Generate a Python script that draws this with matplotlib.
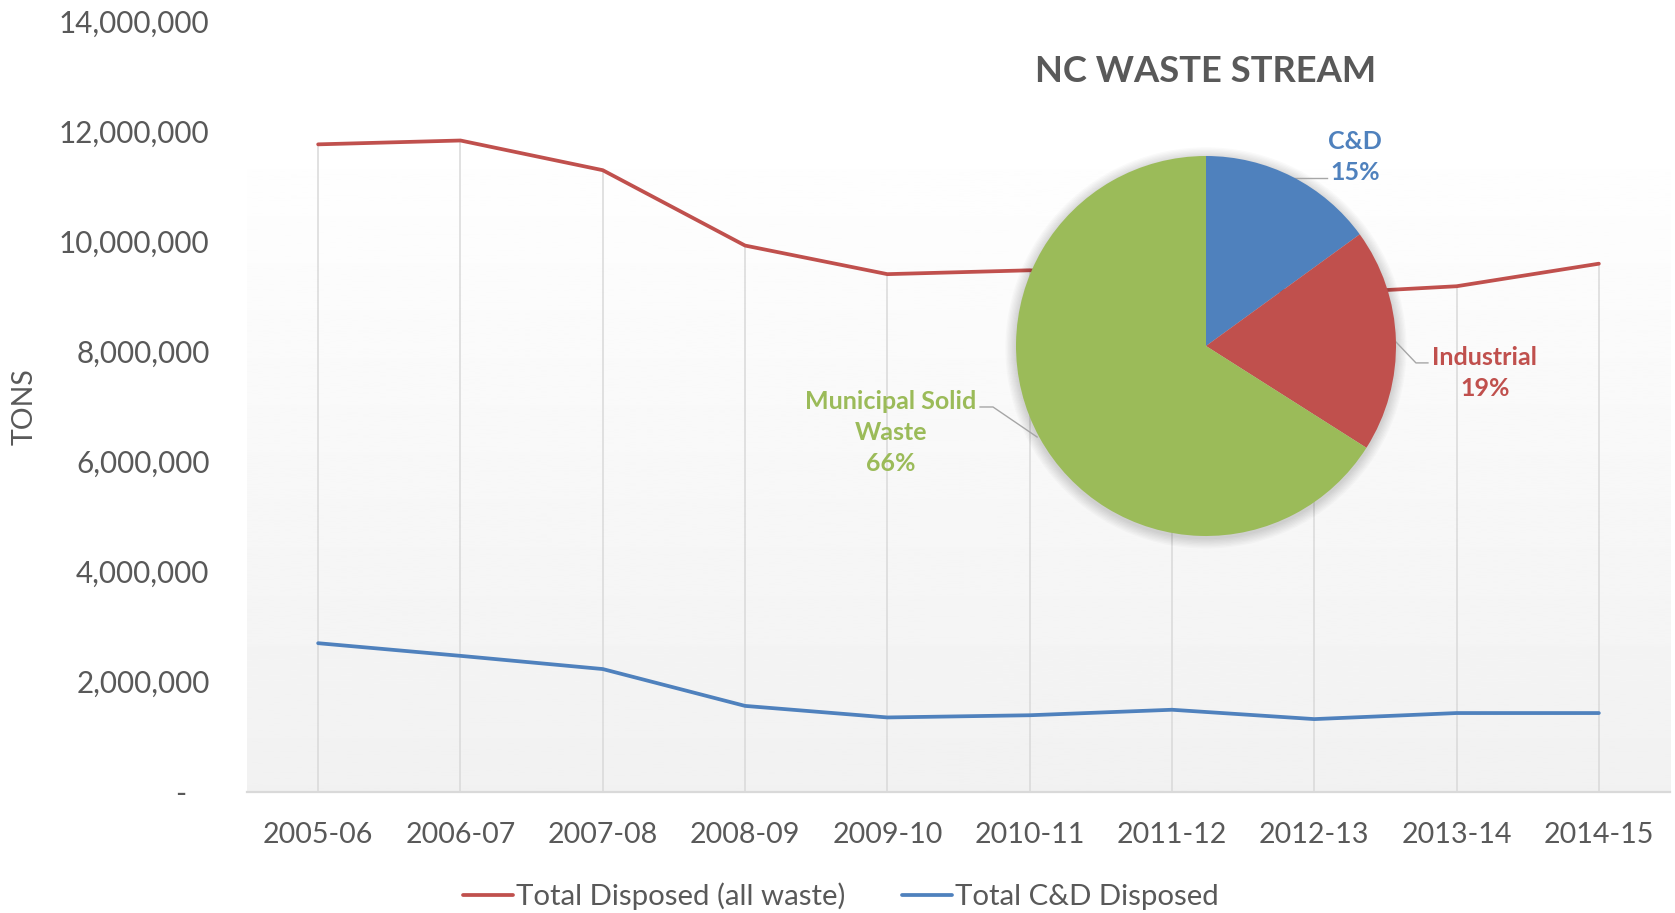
import numpy as np
import matplotlib
matplotlib.use("Agg")
import matplotlib.pyplot as plt
from matplotlib.ticker import FuncFormatter, MultipleLocator

plt.rcParams['font.family'] = ['Lato', 'DejaVu Sans']

# data
years = ['2005-06', '2006-07', '2007-08', '2008-09', '2009-10',
         '2010-11', '2011-12', '2012-13', '2013-14', '2014-15']
total_disposed = [11770000, 11840000, 11300000, 9930000, 9410000,
                  9480000, 9300000, 9050000, 9190000, 9600000]
cd_disposed = [2700000, 2470000, 2230000, 1560000, 1350000,
               1390000, 1490000, 1320000, 1430000, 1430000]

pie_labels = ['C&D', 'Industrial', 'Municipal Solid\nWaste']
pie_shares = [15, 19, 66]

RED = '#C0504D'
BLUE = '#4F81BD'
GREEN = '#9BBB59'
GRAY_TXT = '#595959'

W, H = 1675, 913
fig = plt.figure(figsize=(W / 100, H / 100), dpi=100)

# ---- line chart
ax = fig.add_axes([247 / W, 1 - 791.7 / H, 1423 / W, 770 / H])
x = np.arange(len(years))

# gradient plot area fill
grad = np.linspace(1.0, 0.945, 256).reshape(-1, 1)
ax.imshow(grad, extent=[-0.5, 9.5, 0, 12.2e6], aspect='auto', cmap='gray',
          vmin=0, vmax=1, zorder=0, origin='upper')

ax.vlines(x, 0, total_disposed, color='#d9d9d9', lw=1.1, zorder=1)
ax.plot(x, total_disposed, color=RED, lw=2.7, solid_capstyle='round',
        label='Total Disposed (all waste)', zorder=3)
ax.plot(x, cd_disposed, color=BLUE, lw=2.7, solid_capstyle='round',
        label='Total C&D Disposed', zorder=3)

ax.set_xlim(-0.5, 9.5)
ax.set_ylim(0, 14e6)
ax.yaxis.set_major_locator(MultipleLocator(2e6))
ax.yaxis.set_major_formatter(FuncFormatter(
    lambda v, p: '-   ' if v == 0 else '{:,.0f}'.format(v)))
ax.set_xticks(x)
ax.set_xticklabels(years)
ax.tick_params(axis='y', length=0, labelsize=21.3, labelcolor=GRAY_TXT, pad=27)
ax.tick_params(axis='x', length=0, labelsize=20.6, labelcolor=GRAY_TXT, pad=22)
for s in ['top', 'right', 'left']:
    ax.spines[s].set_visible(False)
ax.spines['bottom'].set_color('#d9d9d9')
ax.spines['bottom'].set_linewidth(1.6)
ax.spines['bottom'].set_zorder(2)
ax.set_ylabel('TONS', fontsize=20.5, color=GRAY_TXT, va='center')
ax.yaxis.set_label_coords(-0.156, 0.5)

fig.legend(loc='center', bbox_to_anchor=(0.502, 0.0185), ncol=2, frameon=False,
           fontsize=21.2, labelcolor=GRAY_TXT, handlelength=1.7,
           handletextpad=0.1, columnspacing=1.9)

# ---- pie overlay
R = 190
cx, cy = 1206, 346
M = 1.15
pax = fig.add_axes([(cx - M * R) / W, (H - cy - M * R) / H, 2 * M * R / W, 2 * M * R / H])
for k in range(8):
    pax.add_patch(plt.Circle((0.0, -0.01), 1.0 + 0.007 * (k + 1),
                             color='black', alpha=0.018, lw=0, zorder=0))
pax.pie(pie_shares, colors=[BLUE, RED, GREEN], startangle=90,
        counterclock=False, radius=1.0, wedgeprops=dict(linewidth=0, zorder=1))
pax.set_xlim(-M, M)
pax.set_ylim(-M, M)
pax.axis('off')

lbl_colors = [BLUE, RED, GREEN]
lbl_pos = [(0.784, 0.995), (1.468, -0.142), (-1.658, -0.455)]
for name, share, col, (lx, ly) in zip(pie_labels, pie_shares, lbl_colors, lbl_pos):
    pax.text(lx, ly, '{}\n{}%'.format(name, share), color=col, fontsize=18,
             fontweight='bold', ha='center', va='center', linespacing=1.4,
             clip_on=False)

leaders = [
    ([0.453, 0.637], [0.884, 0.884]),
    ([1.0, 1.105, 1.168], [0.021, -0.089, -0.089]),
    ([-1.189, -1.121, -0.889], [-0.321, -0.321, -0.479]),
]
for lxs, lys in leaders:
    pax.plot(lxs, lys, color='#a6a6a6', lw=1.0, clip_on=False, zorder=0.5)

fig.text(cx / W, 1 - 72 / H, 'NC WASTE STREAM', color=GRAY_TXT, fontsize=26.2,
         fontweight='bold', ha='center', va='center')

fig.savefig('out.png', dpi=100)
